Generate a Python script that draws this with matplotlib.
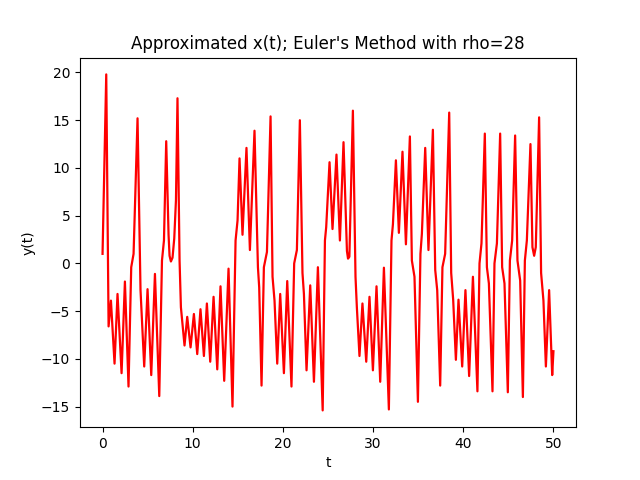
import matplotlib

matplotlib.use("Agg")
import matplotlib.pyplot as plt

# values (turning points and shoulders)
t_vals = [
    0.00, 0.41, 0.67, 0.93, 1.33, 1.66, 2.11, 2.48, 2.88, 3.18,
    3.44, 3.88, 4.21, 4.62, 4.99, 5.40, 5.81, 6.29, 6.59, 6.81,
    7.06, 7.32, 7.43, 7.58, 7.76, 7.95, 8.14, 8.31, 8.54, 8.69,
    9.09, 9.39, 9.76, 10.13, 10.50, 10.86, 11.24, 11.57, 11.94, 12.31,
    12.72, 13.08, 13.49, 13.97, 14.41, 14.75, 14.97, 15.19, 15.52, 15.96,
    16.34, 16.85, 17.23, 17.37, 17.63, 17.89, 18.23, 18.63, 18.85, 19.07,
    19.37, 19.70, 20.11, 20.48, 20.95, 21.25, 21.55, 21.88, 22.17, 22.33,
    22.62, 23.03, 23.44, 23.88, 24.41, 24.66, 24.80, 25.17, 25.50, 25.94,
    26.32, 26.72, 27.10, 27.22, 27.37, 27.76, 28.05, 28.20, 28.49, 28.82,
    29.24, 29.60, 29.98, 30.38, 30.79, 31.20, 31.75, 32.04, 32.20, 32.53,
    32.86, 33.26, 33.64, 34.08, 34.30, 34.59, 34.97, 35.25, 35.41, 35.78,
    36.14, 36.63, 36.89, 37.11, 37.44, 37.69, 37.99, 38.44, 38.66, 38.88,
    39.18, 39.47, 39.88, 40.24, 40.65, 41.07, 41.57, 41.80, 42.02, 42.39,
    42.62, 42.84, 43.24, 43.46, 43.73, 44.09, 44.31, 44.57, 44.94, 45.17,
    45.42, 45.75, 46.01, 46.31, 46.61, 46.83, 47.05, 47.45, 47.67, 47.86,
    48.04, 48.41, 48.63, 48.89, 49.16, 49.52, 49.86, 50.00,
]
x_vals = [
    1.0, 19.8, -6.6, -3.9, -10.5, -3.2, -11.5, -1.9, -12.9, -0.4,
    1.0, 15.2, -2.8, -10.8, -2.7, -11.7, -1.1, -13.9, 0.3, 2.4,
    12.8, 3.0, 0.8, 0.2, 0.6, 2.6, 6.6, 17.3, 0.3, -4.6,
    -8.6, -5.6, -8.8, -5.3, -9.5, -4.8, -9.7, -4.2, -10.3, -3.5,
    -11.1, -2.4, -12.3, -0.55, -15.0, 2.4, 4.5, 11.0, 3.0, 12.1,
    1.4, 13.9, -0.4, -2.5, -12.8, -0.4, 1.2, 15.4, -1.4, -3.9,
    -10.5, -3.2, -11.5, -1.85, -12.9, 0.0, 1.4, 15.0, -1.0, -3.2,
    -11.2, -2.3, -12.4, -0.4, -15.4, 2.4, 3.8, 10.6, 3.6, 11.4,
    2.4, 12.7, 1.3, 0.5, 0.7, 16.0, -1.4, -4.6, -9.7, -4.2,
    -10.3, -3.5, -11.2, -2.4, -12.4, -0.45, -15.3, 2.4, 4.1, 10.8,
    3.2, 11.7, 2.0, 13.3, 0.3, -1.4, -14.5, 1.0, 3.1, 12.1,
    1.4, 14.0, -0.7, -2.8, -12.8, -0.4, 1.0, 15.8, -1.0, -3.8,
    -10.1, -3.8, -10.8, -2.8, -11.8, -1.4, -13.4, 0.0, 2.1, 13.6,
    -0.4, -2.1, -13.4, 0.0, 2.1, 13.6, -0.4, -2.1, -13.5, 0.3,
    2.4, 13.4, 0.3, -1.8, -14.0, 0.3, 2.4, 12.5, 1.7, 0.8,
    1.7, 15.3, -1.0, -3.9, -10.8, -2.8, -11.7, -9.2,
]

fig, ax = plt.subplots(figsize=(6.4, 4.8), dpi=100)
ax.plot(t_vals, x_vals, color="red", linewidth=1.6)
ax.set_title("Approximated x(t); Euler's Method with rho=28")
ax.set_xlabel("t")
ax.set_ylabel("y(t)")

fig.savefig("out.png", dpi=100)
plt.close(fig)
